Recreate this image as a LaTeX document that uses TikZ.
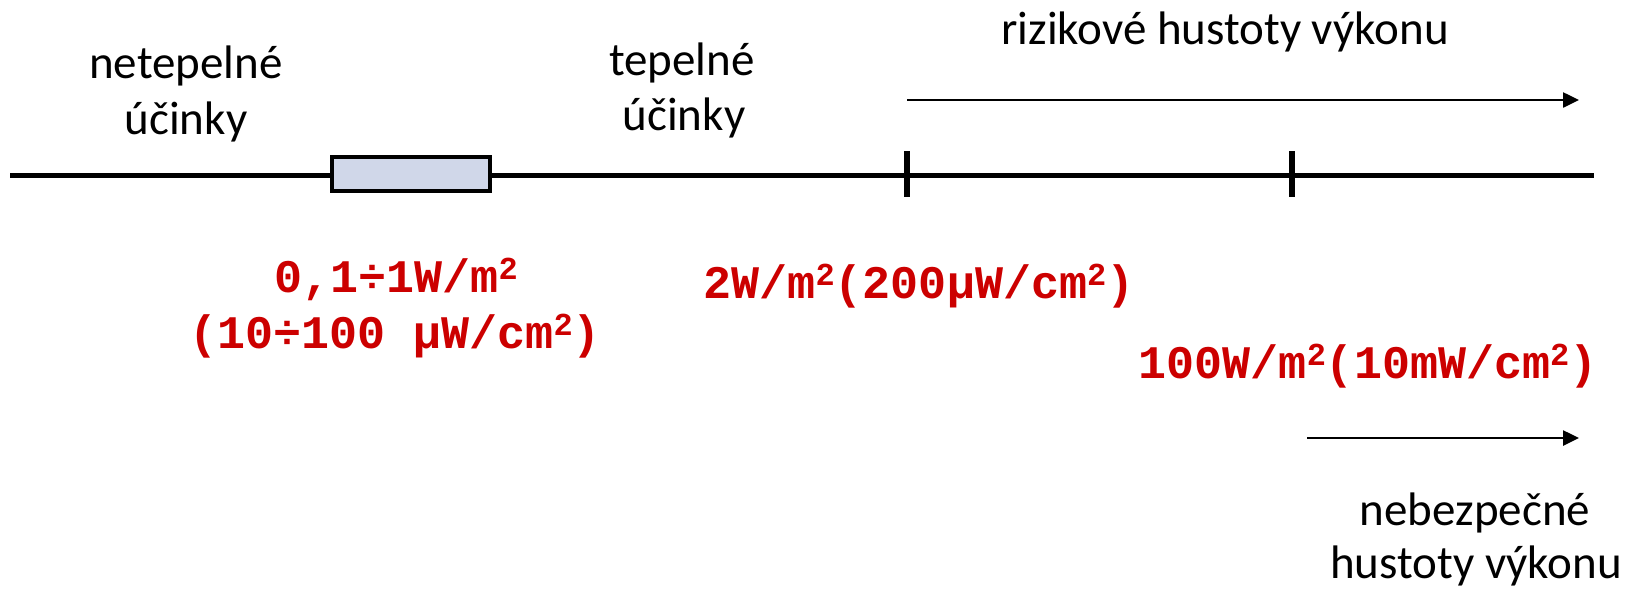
\documentclass[tikz,border=0pt]{standalone}
\usepackage{fontspec}
\setmainfont{Carlito}
\newfontfamily\redmono{Liberation Mono}
\usetikzlibrary{arrows.meta}
\definecolor{boxfill}{RGB}{208,215,233}
\definecolor{valred}{RGB}{204,0,0}
\newcommand\supr[1]{\raisebox{13pt}{\fontsize{32}{32}\selectfont #1}}
\tikzset{
  lbl/.style={inner sep=0pt, anchor=base, font=\fontsize{47}{56}\selectfont},
  val/.style={inner sep=0pt, anchor=base, text=valred, font=\fontsize{46.7}{56}\selectfont\redmono\bfseries},
  axis/.style={line width=5pt},
  tick/.style={line width=5.5pt},
  rangebox/.style={draw, line width=4.5pt, fill=boxfill, minimum width=158pt, minimum height=34pt, inner sep=0pt},
  arr/.style={line width=2.5pt, -{Triangle[length=16pt,width=15pt]}}
}
\begin{document}
\begin{tikzpicture}[x=1pt,y=-1pt]
\useasboundingbox (0,0) rectangle (1637,590);
% axis
\coordinate (L) at (10,175);
\coordinate (R) at (1594,175);
\draw[axis] (L) -- (R);
% ticks
\coordinate (t1a) at (907,151);
\coordinate (t1b) at (907,197);
\coordinate (t2a) at (1292,151);
\coordinate (t2b) at (1292,197);
\draw[tick] (t1a) -- (t1b);
\draw[tick] (t2a) -- (t2b);
% range box
\node[rangebox] (box) at (411,174) {};
% arrows
\coordinate (a1s) at (907,100);
\coordinate (a1e) at (1579,100);
\draw[arr] (a1s) -- (a1e);
\coordinate (a2s) at (1307,438);
\coordinate (a2e) at (1579,438);
\draw[arr] (a2s) -- (a2e);
% black labels
\node[lbl] (n1) at (186,78) {netepelné};
\node[lbl] (n2) at (186,134) {účinky};
\node[lbl] (p1) at (682,75) {tepelné};
\node[lbl] (p2) at (684,130) {účinky};
\node[lbl] (riz) at (1225,44) {rizikové hustoty výkonu};
\node[lbl] (neb1) at (1475,525) {nebezpečné};
\node[lbl] (neb2) at (1476,578) {hustoty výkonu};
% red values
\node[val] (v1) at (396,292) {0,1÷1W/m\supr{2}};
\node[val] (v2) at (395,348) {(10÷100 µW/cm\supr{2})};
\node[val] (v3) at (919,298) {2W/m\supr{2}(200µW/cm\supr{2})};
\node[val] (v4) at (1368,378) {100W/m\supr{2}(10mW/cm\supr{2})};
\end{tikzpicture}
\end{document}
